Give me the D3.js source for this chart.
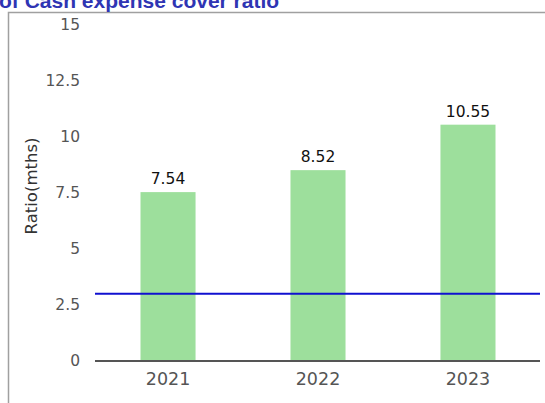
<!DOCTYPE html>
<html>
<head>
<meta charset="utf-8">
<script src="https://cdn.jsdelivr.net/npm/d3@7"></script>
<style>
  html, body { margin: 0; padding: 0; background: #fff; overflow: hidden; }
  svg { display: block; }
</style>
</head>
<body>
<script>
// Cash expense cover ratio, in months of expenses
const years = ["2021", "2022", "2023"];
const ratios = [7.54, 8.52, 10.55];
const benchmark = [3];
const yTicks = [0, 2.5, 5, 7.5, 10, 12.5, 15];
const yTickLabels = ["0", "2.5", "5", "7.5", "10", "12.5", "15"];
const titleText = "of Cash expense cover ratio";
const yAxisTitle = "Ratio(mths)";

const W = 545, H = 403;
const svg = d3.select("body").append("svg").attr("width", W).attr("height", H);

const x = d3.scaleBand().domain(years).range([93, 543])
  .paddingInner(0.633).paddingOuter(0.3167);
const y = d3.scaleLinear().domain([0, 15]).range([361, 25]);

// panel frame
svg.append("rect").attr("x", 8.5).attr("y", 12.5).attr("width", W + 20).attr("height", H + 20)
  .attr("fill", "#fff").attr("stroke", "#a0a0a0").attr("stroke-width", 1.5);

// heading (runs off the top edge)
svg.append("text").attr("x", -1).attr("y", 8)
  .style("font-family", "Liberation Sans, Arial, sans-serif").style("font-weight", "bold")
  .style("font-size", "21px").attr("fill", "#2f35b3").text(titleText);

// y axis labels
const yAxis = d3.axisLeft(y).tickValues(yTicks)
  .tickFormat((d, i) => yTickLabels[i]).tickSize(0).tickPadding(0);
const gy = svg.append("g").attr("transform", "translate(80,0)").call(yAxis);
gy.select(".domain").remove();
gy.attr("font-size", null).attr("font-family", null);
gy.selectAll("text").style("font-family", "DejaVu Sans, sans-serif").style("font-size", "15.5px")
  .attr("fill", "#555");

svg.append("text").attr("transform", `translate(37,186) rotate(-90)`)
  .attr("text-anchor", "middle").style("font-family", "DejaVu Sans, sans-serif")
  .style("font-size", "16.5px").attr("fill", "#333").text(yAxisTitle);

// bars
svg.append("g").selectAll("rect").data(ratios).join("rect")
  .attr("x", (d, i) => x(years[i])).attr("width", x.bandwidth())
  .attr("y", d => y(d)).attr("height", d => y(0) - y(d))
  .attr("fill", "#9ddf9c");

// value labels
svg.append("g").selectAll("text").data(ratios).join("text")
  .attr("x", (d, i) => x(years[i]) + x.bandwidth() / 2).attr("y", d => y(d) - 8)
  .attr("text-anchor", "middle").style("font-family", "DejaVu Sans, sans-serif")
  .style("font-size", "15.5px").attr("fill", "#111").text(d => d.toFixed(2));

// benchmark line
svg.append("g").selectAll("line").data(benchmark).join("line")
  .attr("x1", 95).attr("x2", 540).attr("y1", d => y(d)).attr("y2", d => y(d))
  .attr("stroke", "#1010d0").attr("stroke-width", 2);

// x axis
const xAxis = d3.axisBottom(x).tickSize(0).tickPadding(12);
const gx = svg.append("g").attr("transform", `translate(0,${y(0)})`).call(xAxis);
gx.select(".domain").remove();
gx.attr("font-size", null).attr("font-family", null);
gx.selectAll("text").style("font-family", "DejaVu Sans, sans-serif").style("font-size", "17.5px")
  .attr("fill", "#555");
svg.append("line").attr("x1", 95).attr("x2", 540).attr("y1", y(0)).attr("y2", y(0))
  .attr("stroke", "#555").attr("stroke-width", 2);
</script>
</body>
</html>
